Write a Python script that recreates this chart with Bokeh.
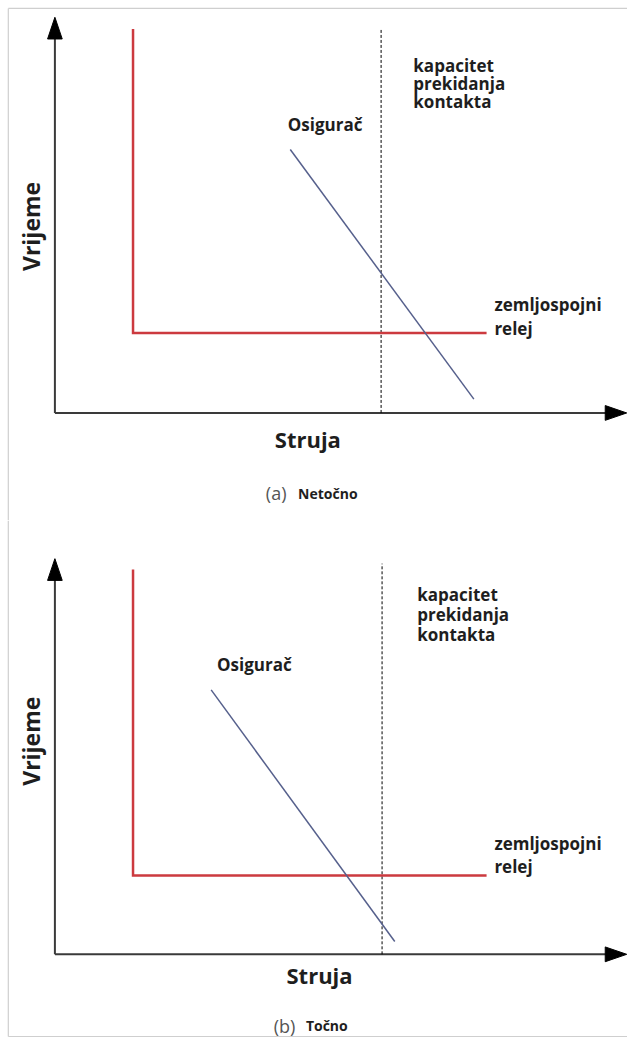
import numpy as np
from bokeh.plotting import figure
from bokeh.models import Range1d
from bokeh.layouts import column
from bokeh.embed import file_html
from bokeh.resources import INLINE
from bokeh.core.properties import value

# ---------------- data (schematic units) ----------------
axis_x_tip = 58.55         # end of the current (Struja) axis
axis_y_tip = 40.1          # end of the time (Vrijeme) axis

# earth-fault relay (zemljospojni relej): vertical then horizontal
relay_pickup = [8.0, 8.0]
relay_top = [38.9, 39.0]
relay_time = [8.1, 8.0]
relay_end = [44.2, 44.2]

# breaking capacity of the contactor (kapacitet prekidanja kontakta)
breaking_capacity = [33.4, 33.5]
breaking_top = [38.9, 39.6]

# fuse (Osigurač) characteristic
fuse_x = [[24.1, 42.9], [16.0, 34.8]]
fuse_y = [[26.7, 1.4], [26.8, 1.3]]

captions_letter = ["(a)", "(b)"]
captions_word = ["Netočno", "Točno"]
x_label = "Struja"
y_label = "Vrijeme"
capacity_lines = ["kapacitet", "prekidanja", "kontakta"]
relay_lines = ["zemljospojni", "relej"]
fuse_label = "Osigurač"

# label anchor positions (schematic units)
capacity_x = [36.7, 37.1]
capacity_y = [[35.2, 33.4, 31.6], [36.45, 34.45, 32.45]]
fuse_label_x = [23.85, 16.6]
fuse_label_y = [29.25, 29.37]
relay_label_x = [45.0, 45.0]
relay_label_y = [[11.0, 8.6], [11.25, 8.95]]
xlabel_x = [25.9, 27.1]
xlabel_y = [-2.6, -2.05]
ylabel_x = [-2.4, -2.4]
ylabel_y = [18.9, 21.6]
caption_x = [21.6, 22.4]
caption_y = [-8.15, -7.25]

# frame of the picture
frame_left = -4.77
frame_top = 41.0
frame_bottom = -8.33

# ---------------- styling ----------------
RED = "#cc3a3f"
BLUE = "#56608c"
AXIS = "#3a3a3a"
TEXT = "#1e1e1e"
FRAME = "#cfcfcf"
FONT = value("Open Sans")

W = 627
heights = [520, 517]
y_ranges = [(-10.9, 41.8), (-8.43, 43.97)]
x_range = (-5.57, 58.63)

HEAD_LEN = 2.2
HEAD_HALF = 0.75


def make_panel(i):
    p = figure(width=W, height=heights[i], output_backend="svg", toolbar_location=None,
               x_range=Range1d(*x_range), y_range=Range1d(*y_ranges[i]),
               x_axis_type=None, y_axis_type=None, min_border=0)
    p.grid.visible = False
    p.outline_line_color = None
    p.border_fill_color = "white"
    p.background_fill_color = "white"

    # light frame around the picture (left side, top of (a), bottom of (b))
    y_lo, y_hi = y_ranges[i]
    p.line([frame_left, frame_left],
           [frame_bottom if i == 1 else y_lo, frame_top if i == 0 else y_hi],
           line_color=FRAME, line_width=1.2)
    if i == 0:
        p.line([frame_left, x_range[1]], [frame_top, frame_top], line_color=FRAME, line_width=1.2)
    else:
        p.line([frame_left, x_range[1]], [frame_bottom, frame_bottom], line_color=FRAME, line_width=1.2)

    # axes with arrow heads
    p.line([0, axis_x_tip - HEAD_LEN * 0.5], [0, 0], line_color=AXIS, line_width=2)
    p.line([0, 0], [0, axis_y_tip - HEAD_LEN * 0.5], line_color=AXIS, line_width=2)
    p.patch([axis_x_tip - HEAD_LEN, axis_x_tip, axis_x_tip - HEAD_LEN],
            [-HEAD_HALF, 0, HEAD_HALF], fill_color="black", line_color="black")
    p.patch([-HEAD_HALF, 0, HEAD_HALF],
            [axis_y_tip - HEAD_LEN, axis_y_tip, axis_y_tip - HEAD_LEN],
            fill_color="black", line_color="black")

    # breaking capacity (dashed)
    p.line([breaking_capacity[i]] * 2, [0, breaking_top[i]], line_color="black",
           line_width=1, line_dash="3 2")

    # relay characteristic
    p.line([relay_pickup[i], relay_pickup[i], relay_end[i]],
           [relay_top[i], relay_time[i], relay_time[i]],
           line_color=RED, line_width=2.5, line_join="miter")

    # fuse characteristic
    p.line(fuse_x[i], fuse_y[i], line_color=BLUE, line_width=1.5)

    # annotations
    p.text(x=[capacity_x[i]] * 3, y=capacity_y[i], text=capacity_lines,
           text_font=FONT, text_font_style="bold", text_font_size="17px",
           text_color=TEXT, text_align="left", text_baseline="middle")
    p.text(x=[fuse_label_x[i]], y=[fuse_label_y[i]], text=[fuse_label],
           text_font=FONT, text_font_style="bold", text_font_size="17px",
           text_color=TEXT, text_align="left", text_baseline="alphabetic")
    p.text(x=[relay_label_x[i]] * 2, y=relay_label_y[i], text=relay_lines,
           text_font=FONT, text_font_style="bold", text_font_size="17px",
           text_color=TEXT, text_align="left", text_baseline="middle")
    p.text(x=[xlabel_x[i]], y=[xlabel_y[i]], text=[x_label],
           text_font=FONT, text_font_style="bold", text_font_size="22px",
           text_color=TEXT, text_align="center", text_baseline="middle")
    p.text(x=[ylabel_x[i]], y=[ylabel_y[i]], text=[y_label], angle=np.pi / 2,
           text_font=FONT, text_font_style="bold", text_font_size="23px",
           text_color=TEXT, text_align="center", text_baseline="middle")
    p.text(x=[caption_x[i]], y=[caption_y[i]], text=[captions_letter[i]],
           text_font=FONT, text_font_style="normal", text_font_size="18px",
           text_color="#555555", text_align="left", text_baseline="alphabetic")
    p.text(x=[caption_x[i] + 3.3], y=[caption_y[i]], text=[captions_word[i]],
           text_font=FONT, text_font_style="bold", text_font_size="14px",
           text_color=TEXT, text_align="left", text_baseline="alphabetic")
    return p


layout = column(make_panel(0), make_panel(1), spacing=0)
open("out.html", "w").write(file_html(layout, INLINE))
